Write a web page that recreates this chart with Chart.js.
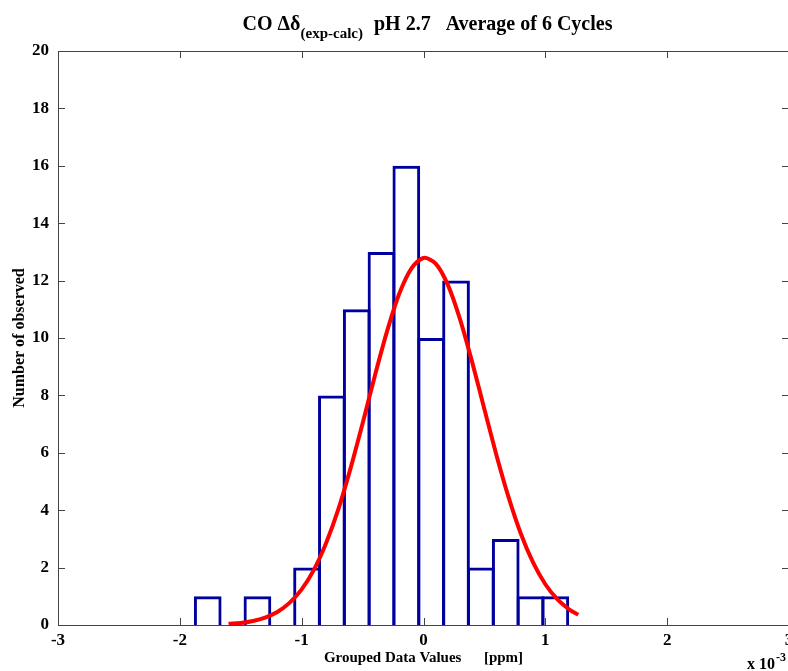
<!DOCTYPE html>
<html>
<head>
<meta charset="utf-8">
<title>CO histogram</title>
<script src="https://cdn.jsdelivr.net/npm/chart.js@4.4.1/dist/chart.umd.min.js"></script>
<style>
    html, body { margin: 0; padding: 0; background: #fff; overflow: hidden; }
    #wrap { position: relative; width: 800px; height: 671px; }
</style>
</head>
<body>
<div id="wrap"><canvas id="hist"></canvas></div>
<script>
// Histogram bins (x 10^-3 ppm) and counts
const binCenters = [-1.771, -1.567, -1.363, -1.160, -0.956, -0.752, -0.548, -0.345, -0.141, 0.063, 0.267, 0.471, 0.675, 0.878, 1.082];
const counts = [1, 0, 1, 0, 2, 8, 11, 13, 16, 10, 12, 2, 3, 1, 1];

// Fitted normal curve
const fitX = [-1.6, -1.5, -1.4, -1.3, -1.2, -1.1, -1.0, -0.9, -0.8, -0.7, -0.6, -0.5, -0.4, -0.3, -0.2, -0.1, 0.0,
    0.1, 0.2, 0.3, 0.4, 0.5, 0.6, 0.7, 0.8, 0.9, 1.0, 1.1, 1.2, 1.27];
const fitY = [0.04, 0.07, 0.14, 0.26, 0.45, 0.77, 1.24, 1.92, 2.85, 4.02, 5.44, 7.02, 8.67, 10.22, 11.53, 12.42, 12.79,
    12.59, 11.85, 10.65, 9.15, 7.52, 5.90, 4.43, 3.17, 2.17, 1.42, 0.89, 0.53, 0.36];

// Tick labels
const xTicks = [-3, -2, -1, 0, 1, 2, 3];
const yTicks = [0, 2, 4, 6, 8, 10, 12, 14, 16, 18, 20];

const serif = '"Liberation Serif", "Times New Roman", serif';

// Box around the axes with inward tick marks on all four sides
const axesBox = {
    id: 'axesBox',
    beforeDatasetsDraw(chart) {
        const { ctx, chartArea: a, scales: { x, y } } = chart;
        const len = 7;
        ctx.save();
        ctx.strokeStyle = '#444';
        ctx.lineWidth = 1;
        ctx.beginPath();
        ctx.rect(a.left + 0.5, a.top + 0.5, a.right - a.left, a.bottom - a.top);
        xTicks.forEach(v => {
            const px = Math.round(x.getPixelForValue(v)) + 0.5;
            ctx.moveTo(px, a.bottom);
            ctx.lineTo(px, a.bottom - len);
            ctx.moveTo(px, a.top);
            ctx.lineTo(px, a.top + len);
        });
        yTicks.forEach(v => {
            const py = Math.round(y.getPixelForValue(v)) + 0.5;
            ctx.moveTo(a.left, py);
            ctx.lineTo(a.left + len, py);
            ctx.moveTo(a.right, py);
            ctx.lineTo(a.right - len, py);
        });
        ctx.stroke();
        ctx.restore();
    }
};

// Title with subscript, and the x 10^-3 exponent label
const extraText = {
    id: 'extraText',
    afterDraw(chart) {
        const ctx = chart.ctx;
        ctx.save();
        ctx.fillStyle = '#000';
        ctx.textBaseline = 'alphabetic';
        const big = 'bold 20px ' + serif;
        const small = 'bold 15px ' + serif;
        const parts = [
            { t: 'CO \u0394\u03b4', f: big, dy: 0 },
            { t: '(exp-calc)', f: small, dy: 8 },
            { t: '  pH 2.7   Average of 6 Cycles', f: big, dy: 0 }
        ];
        let total = 0;
        parts.forEach(p => { ctx.font = p.f; p.w = ctx.measureText(p.t).width; total += p.w; });
        let cx = 427 - total / 2;
        const base = 30;
        parts.forEach(p => {
            ctx.font = p.f;
            ctx.fillText(p.t, cx, base + p.dy);
            cx += p.w + (p.dy ? 1 : 0);
        });

        ctx.font = 'bold 16px ' + serif;
        ctx.fillText('x 10', 747, 669);
        const w = ctx.measureText('x 10').width;
        ctx.font = 'bold 12px ' + serif;
        ctx.fillText('-3', 747 + w + 1, 661);
        ctx.restore();
    }
};

const ctx = document.getElementById('hist').getContext('2d');
const histChart = new Chart(ctx, {
    type: 'bar',
    data: {
        datasets: [{
            type: 'line',
            data: fitX.map((v, i) => ({ x: v, y: fitY[i] })),
            borderColor: '#ff0000',
            borderWidth: 4,
            pointRadius: 0,
            tension: 0.3,
            fill: false
        }, {
            data: binCenters.map((v, i) => ({ x: v, y: counts[i] })),
            backgroundColor: 'rgba(0,0,0,0)',
            borderColor: '#00009e',
            borderWidth: 3,
            borderSkipped: 'bottom',
            categoryPercentage: 1,
            barPercentage: 1.12
        }]
    },
    options: {
        responsive: true,
        maintainAspectRatio: false,
        animation: false,
        layout: { padding: { top: 51, right: 11, left: 0, bottom: 0 } },
        plugins: {
            legend: { display: false },
            tooltip: { enabled: false }
        },
        scales: {
            x: {
                type: 'linear',
                min: -3,
                max: 3,
                offset: false,
                afterBuildTicks: scale => { scale.ticks = xTicks.map(v => ({ value: v })); },
                afterFit: scale => { scale.height = 46; },
                grid: { display: false, drawTicks: false },
                border: { display: false },
                ticks: {
                    color: '#000',
                    padding: 5,
                    maxRotation: 0,
                    font: { family: serif, size: 17, weight: 'bold' }
                },
                title: {
                    display: true,
                    text: 'Grouped Data Values      [ppm]',
                    color: '#000',
                    padding: { top: 0, bottom: 4 },
                    font: { family: serif, size: 15, weight: 'bold' }
                }
            },
            y: {
                min: 0,
                max: 20,
                afterBuildTicks: scale => { scale.ticks = yTicks.map(v => ({ value: v })); },
                afterFit: scale => { scale.width = 58; },
                grid: { display: false, drawTicks: false },
                border: { display: false },
                ticks: {
                    color: '#000',
                    padding: 9,
                    font: { family: serif, size: 17, weight: 'bold' }
                },
                title: {
                    display: true,
                    text: 'Number of observed',
                    color: '#000',
                    padding: { top: 10, bottom: 0 },
                    font: { family: serif, size: 16, weight: 'bold' }
                }
            }
        }
    },
    plugins: [axesBox, extraText]
});
</script>
</body>
</html>
